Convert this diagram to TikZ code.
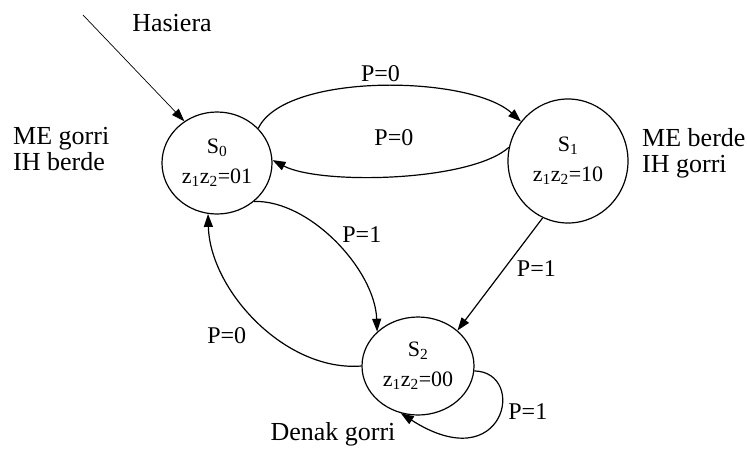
\documentclass[tikz,border=0pt]{standalone}
\usepackage{fontspec}
\setmainfont{Liberation Serif}
\usetikzlibrary{shapes.geometric,arrows.meta,positioning,calc}

\begin{document}
\begin{tikzpicture}[
    x=1pt, y=-1pt,
    statenode/.style={
        ellipse, draw, line width=1.2pt,
        inner sep=0pt,
        align=center,
        font=\fontsize{22}{30}\selectfont
    },
    arr/.style={-{Triangle[length=13pt,width=9pt]}, line width=1.2pt},
    lbl/.style={font=\fontsize{24}{28}\selectfont, inner sep=0pt},
    note/.style={font=\fontsize{26}{26}\selectfont, align=left, inner sep=0pt},
]
\useasboundingbox (0,0) rectangle (747,448);

\node[statenode, minimum width=110pt, minimum height=102pt] (s0) at (217,163)
    {S\textsubscript{0}\\z\textsubscript{1}z\textsubscript{2}=01};
\node[statenode, minimum width=120pt, minimum height=124pt] (s1) at (568,161)
    {S\textsubscript{1}\\z\textsubscript{1}z\textsubscript{2}=10};
\node[statenode, minimum width=112pt, minimum height=98pt] (s2) at (418,366)
    {S\textsubscript{2}\\z\textsubscript{1}z\textsubscript{2}=00};

\node[note] (hasiera) at (172,23) {Hasiera};
\node[note, anchor=west] (out0) at (13,149) {ME gorri\\IH berde};
\node[note, anchor=west] (out1) at (642,153) {ME berde\\IH gorri};
\node[note] (out2) at (333,434) {Denak gorri};

\coordinate (start) at (83,15);

% initial state
\draw[-{Triangle[length=13pt,width=9pt]}, line width=0.7pt] (start) -- (s0.128);

% S0 <-> S1
\draw[arr] (s0.40) .. controls (285,72) and (470,75) .. (s1.140)
    node[lbl, pos=0.5, above=4pt] {P=0};
\draw[arr] (s1.167) .. controls (470,182) and (320,185) .. (s0.3)
    node[lbl, pos=0.5, above=30pt] {P=0};

% towards S2
\draw[arr] (s0.-46) .. controls (310,200) and (375,270) .. (s2.140)
    node[lbl, pos=0.5, above right=0pt and 6pt] {P=1};
\draw[arr] (s1.-114) -- (s2.42)
    node[lbl, pos=0.45, right=12pt] {P=1};

% back to S0
\draw[arr] (s2.180) .. controls (285,372) and (210,290) .. (s0.-100)
    node[lbl, pos=0.5, below left=6pt and 10pt] {P=0};

% self loop
\draw[arr] (s2.-5) .. controls (528,372) and (505,480) .. (s2.-110)
    node[lbl, pos=0.45, right=8pt] {P=1};

\end{tikzpicture}
\end{document}
